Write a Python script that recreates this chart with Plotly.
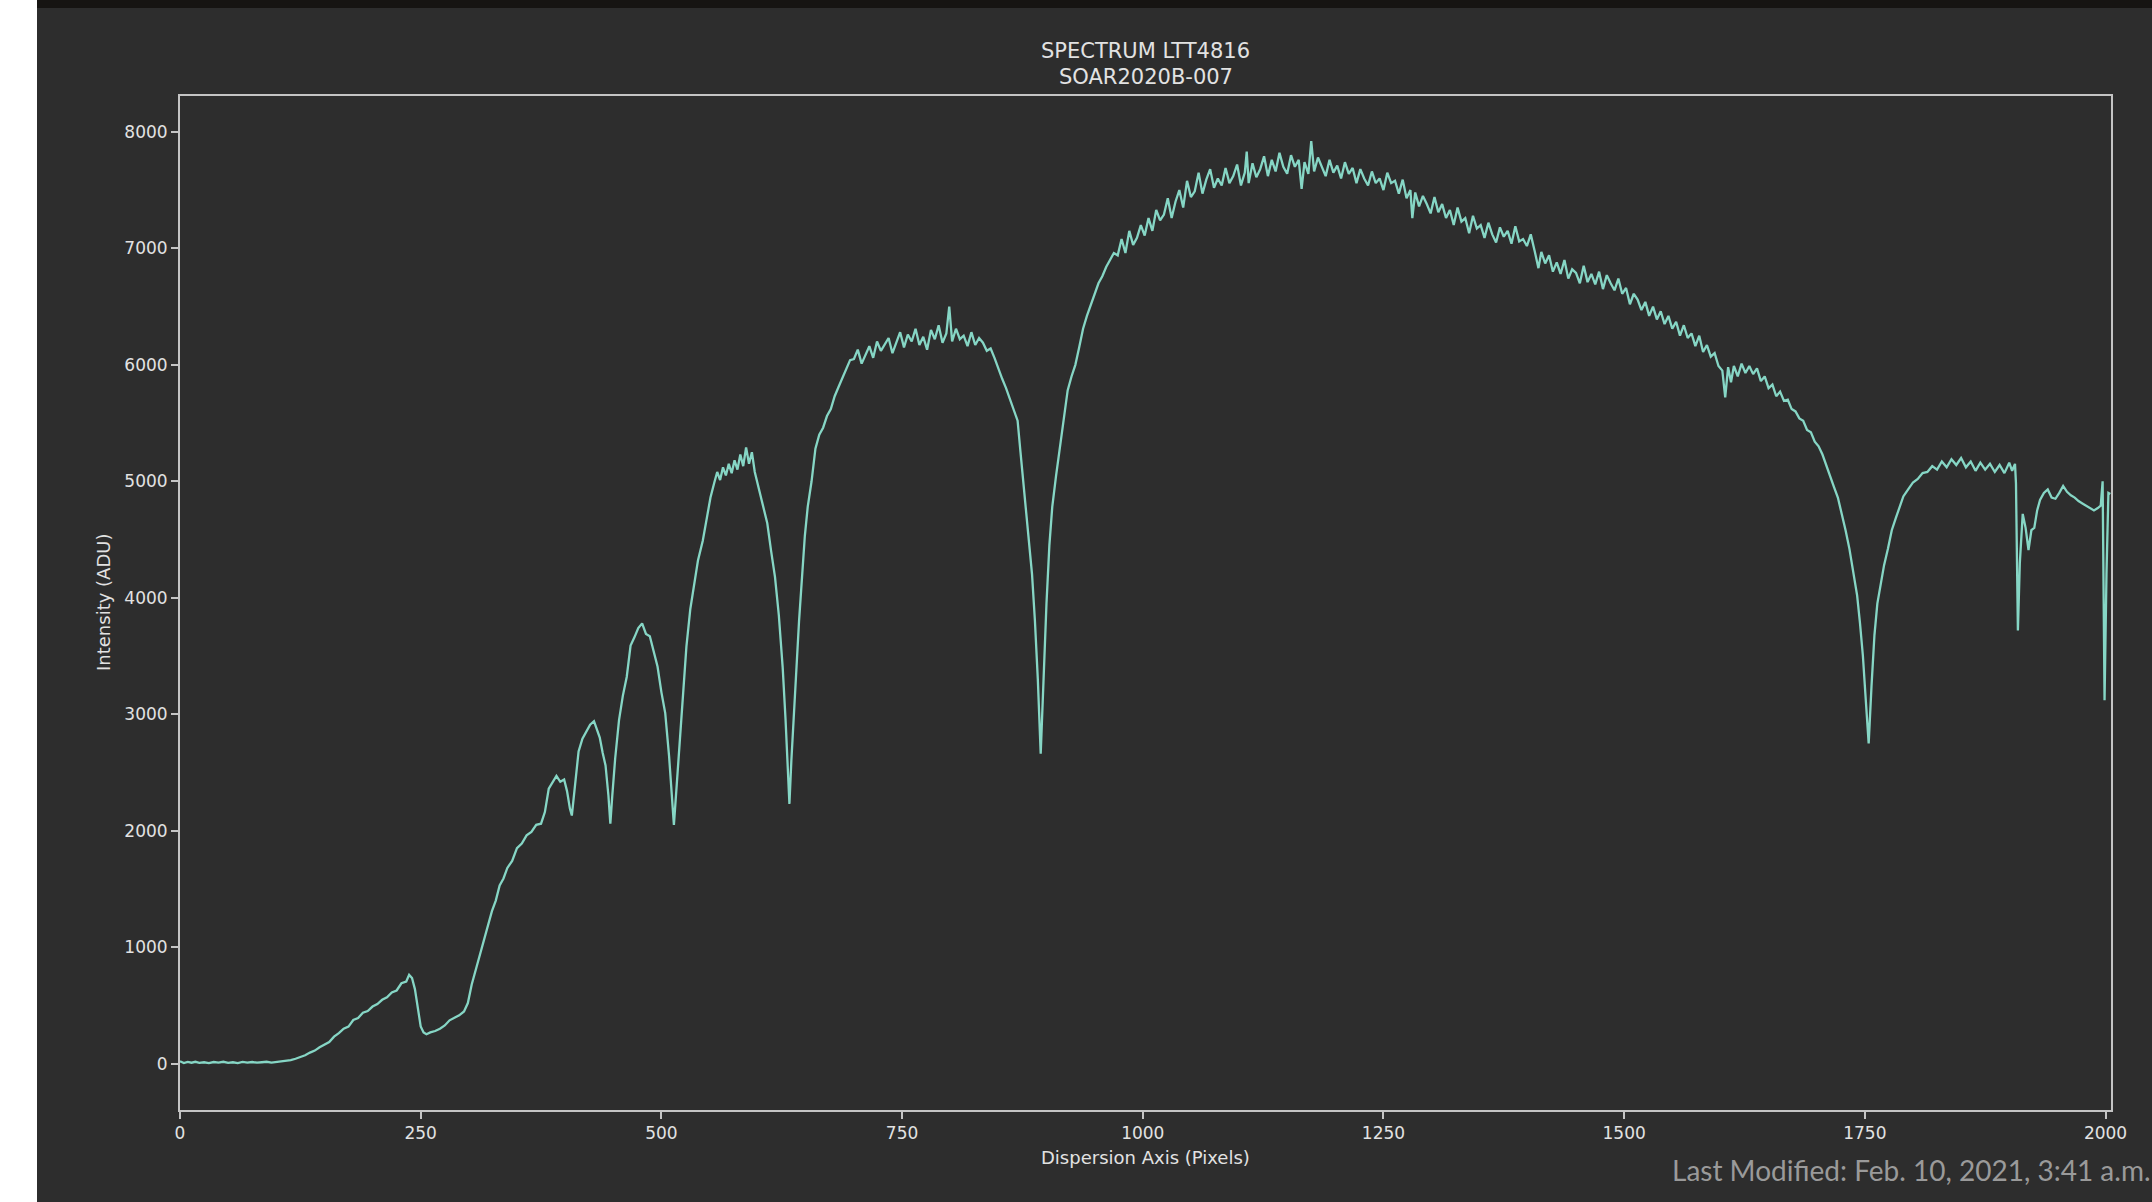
import plotly.graph_objects as go

# ---------------- data ----------------
PIXEL = [
    0, 4, 8, 12, 16, 20, 25, 30, 35, 40, 45, 50, 55, 60, 65, 70, 75, 80, 85, 90, 95, 100, 105, 110,
    115, 120, 125, 130, 135, 140, 145, 150, 155, 160, 165, 170, 175, 180, 185, 190, 195, 200, 205, 210,
    215, 220, 225, 230, 235, 238, 241, 244, 247, 250, 253, 256, 260, 265, 270, 275, 280, 285, 290, 295,
    299, 303, 307, 311, 316, 320, 324, 328, 332, 336, 340, 345, 350, 355, 360, 365, 370, 375, 379, 383,
    387, 391, 395, 399, 402, 405, 407, 410, 414, 418, 422, 426, 430, 433, 436, 439, 442, 445, 447, 449,
    452, 456, 460, 464, 468, 472, 476, 480, 484, 488, 492, 496, 500, 504, 508, 511, 513, 516, 519, 523,
    526, 530, 534, 538, 543, 547, 551, 555, 558, 561, 564, 567, 570, 573, 576, 579, 582, 585, 588, 591,
    594, 597, 600, 603, 606, 610, 614, 618, 622, 626, 629, 631, 633, 635, 637, 640, 643, 646, 649, 652,
    656, 660, 664, 668, 672, 676, 680, 684, 688, 692, 696, 700, 704, 708, 712, 716, 720, 724, 728, 732,
    736, 740, 744, 748, 752, 756, 760, 764, 768, 772, 776, 780, 784, 788, 792, 796, 799, 802, 806, 810,
    814, 818, 822, 826, 830, 834, 838, 842, 846, 850, 854, 858, 862, 866, 870, 873, 876, 879, 882, 885,
    888, 891, 894, 897, 900, 903, 906, 910, 914, 918, 922, 926, 930, 934, 938, 942, 946, 950, 954, 958,
    962, 966, 970, 974, 978, 982, 986, 990, 994, 998, 1002, 1006, 1010, 1014, 1018, 1022, 1026, 1030, 1034, 1038,
    1042, 1046, 1050, 1054, 1058, 1062, 1066, 1070, 1074, 1078, 1082, 1086, 1090, 1094, 1098, 1102, 1106, 1108, 1110, 1114,
    1118, 1122, 1126, 1130, 1134, 1138, 1142, 1146, 1150, 1154, 1158, 1162, 1165, 1168, 1172, 1175, 1178, 1182, 1186, 1190,
    1194, 1198, 1202, 1206, 1210, 1214, 1218, 1222, 1226, 1230, 1234, 1238, 1242, 1246, 1250, 1254, 1258, 1262, 1266, 1270,
    1274, 1278, 1280, 1283, 1287, 1291, 1295, 1299, 1303, 1307, 1311, 1315, 1319, 1323, 1327, 1331, 1335, 1339, 1343, 1347,
    1351, 1355, 1359, 1363, 1367, 1371, 1375, 1379, 1383, 1387, 1391, 1395, 1399, 1403, 1407, 1411, 1414, 1418, 1422, 1426,
    1430, 1434, 1438, 1442, 1446, 1450, 1454, 1458, 1462, 1466, 1470, 1474, 1478, 1482, 1486, 1490, 1494, 1498, 1502, 1506,
    1510, 1514, 1518, 1522, 1526, 1530, 1534, 1538, 1542, 1546, 1550, 1554, 1558, 1562, 1566, 1570, 1574, 1578, 1582, 1586,
    1590, 1594, 1598, 1602, 1605, 1608, 1611, 1614, 1618, 1622, 1626, 1630, 1634, 1638, 1642, 1646, 1650, 1654, 1658, 1662,
    1666, 1670, 1674, 1678, 1682, 1686, 1690, 1694, 1698, 1702, 1706, 1710, 1714, 1718, 1722, 1726, 1730, 1734, 1738, 1742,
    1745, 1748, 1751, 1754, 1757, 1760, 1763, 1766, 1770, 1774, 1778, 1782, 1786, 1790, 1795, 1800, 1805, 1810, 1815, 1820,
    1825, 1830, 1835, 1840, 1845, 1850, 1855, 1860, 1865, 1870, 1875, 1880, 1885, 1890, 1895, 1900, 1903, 1906, 1907, 1909,
    1911, 1914, 1917, 1920, 1923, 1926, 1929, 1932, 1936, 1940, 1944, 1948, 1952, 1956, 1960, 1964, 1968, 1972, 1976, 1980,
    1984, 1988, 1992, 1995, 1997, 1999, 2001, 2003, 2005,
]

INTENSITY = [
    20, 5, 15, 8, 16, 6, 12, 4, 14, 9, 16, 6, 12, 5, 15, 9, 14, 8, 12, 16, 9, 14, 18, 22,
    30, 42, 58, 72, 95, 112, 140, 162, 185, 232, 262, 300, 318, 375, 392, 438, 452, 490, 512, 548,
    570, 612, 628, 690, 705, 762, 735, 640, 470, 320, 268, 252, 268, 280, 300, 328, 372, 395, 415, 448,
    520, 680, 800, 905, 1060, 1170, 1310, 1400, 1530, 1590, 1680, 1740, 1850, 1890, 1960, 1990, 2050, 2060, 2160, 2360,
    2410, 2470, 2420, 2440, 2340, 2190, 2130, 2360, 2680, 2790, 2850, 2910, 2940, 2870, 2800, 2670, 2560, 2300, 2060, 2300,
    2620, 2950, 3160, 3320, 3590, 3660, 3740, 3780, 3690, 3670, 3550, 3410, 3190, 3010, 2640, 2250, 2050, 2400, 2780, 3250,
    3580, 3900, 4100, 4320, 4490, 4690, 4860, 4990, 5080, 5010, 5120, 5050, 5150, 5070, 5180, 5100, 5230, 5130, 5290, 5150,
    5250, 5080, 4980, 4900, 4800, 4640, 4400, 4180, 3850, 3400, 2950, 2550, 2230, 2600, 2950, 3350, 3800, 4200, 4530, 4780,
    5000, 5280, 5400, 5460, 5560, 5620, 5730, 5810, 5890, 5970, 6040, 6050, 6130, 6010, 6090, 6160, 6060, 6200, 6120, 6180,
    6230, 6100, 6190, 6280, 6150, 6260, 6200, 6310, 6170, 6240, 6130, 6300, 6220, 6340, 6190, 6270, 6500, 6200, 6310, 6220,
    6250, 6160, 6280, 6170, 6230, 6190, 6120, 6140, 6060, 5960, 5880, 5800, 5700, 5600, 5520, 5250, 5000, 4750, 4500, 4200,
    3800, 3300, 2660, 3350, 3950, 4450, 4780, 5050, 5300, 5550, 5780, 5900, 6000, 6150, 6310, 6420, 6520, 6600, 6700, 6760,
    6840, 6900, 6960, 6940, 7080, 6960, 7150, 7030, 7090, 7200, 7110, 7260, 7150, 7330, 7240, 7290, 7430, 7260, 7400, 7500,
    7350, 7580, 7440, 7490, 7650, 7470, 7590, 7680, 7520, 7600, 7540, 7690, 7560, 7620, 7720, 7540, 7650, 7830, 7560, 7730,
    7610, 7680, 7790, 7620, 7760, 7660, 7820, 7700, 7640, 7800, 7700, 7760, 7510, 7740, 7640, 7920, 7660, 7780, 7700, 7620,
    7760, 7650, 7710, 7600, 7740, 7640, 7690, 7560, 7680, 7600, 7540, 7660, 7560, 7600, 7500, 7650, 7560, 7580, 7470, 7590,
    7430, 7500, 7260, 7480, 7360, 7450, 7380, 7300, 7440, 7310, 7380, 7260, 7330, 7200, 7350, 7230, 7260, 7130, 7280, 7170,
    7200, 7090, 7220, 7120, 7050, 7180, 7100, 7150, 7040, 7190, 7060, 7080, 7020, 7120, 6980, 6830, 6970, 6870, 6940, 6800,
    6880, 6780, 6900, 6740, 6820, 6790, 6700, 6850, 6710, 6780, 6690, 6800, 6650, 6770, 6700, 6640, 6740, 6610, 6660, 6520,
    6610, 6560, 6470, 6540, 6420, 6500, 6390, 6460, 6350, 6420, 6310, 6370, 6250, 6340, 6230, 6270, 6160, 6250, 6110, 6170,
    6070, 6100, 5990, 5950, 5720, 5980, 5850, 5990, 5900, 6010, 5930, 5990, 5920, 5970, 5860, 5900, 5800, 5830, 5730, 5770,
    5690, 5700, 5620, 5600, 5540, 5520, 5440, 5420, 5340, 5300, 5230, 5130, 5040, 4950, 4860, 4730, 4580, 4420, 4220, 4020,
    3780, 3500, 3120, 2750, 3250, 3680, 3950, 4100, 4280, 4420, 4580, 4680, 4780, 4870, 4930, 4990, 5020, 5070, 5080, 5130,
    5100, 5170, 5120, 5190, 5140, 5200, 5120, 5170, 5090, 5160, 5100, 5150, 5080, 5140, 5070, 5160, 5090, 5150, 4980, 3720,
    4300, 4720, 4600, 4410, 4580, 4600, 4750, 4840, 4900, 4930, 4860, 4850, 4900, 4960, 4910, 4880, 4860, 4830, 4810, 4790,
    4770, 4750, 4770, 4790, 5000, 3120, 4200, 4900, 4890,
]

assert len(PIXEL) == len(INTENSITY)

X_TICKS = [0, 250, 500, 750, 1000, 1250, 1500, 1750, 2000]
Y_TICKS = [0, 1000, 2000, 3000, 4000, 5000, 6000, 7000, 8000]

TITLE_LINES = ["SPECTRUM LTT4816", "SOAR2020B-007"]
X_LABEL = "Dispersion Axis (Pixels)"
Y_LABEL = "Intensity (ADU)"
FOOTER = "Last Modified: Feb. 10, 2021, 3:41 a.m."

# ---------------- layout geometry (pixels) ----------------
W, H = 2152, 1202
L, R, T, B = 180, 41, 96, 92
PW, PH = W - L - R, H - T - B


def px_x(p):
    return (p - L) / PW


def px_y(p):
    return (H - B - p) / PH


BG = "#2d2d2d"
FG = "#e2e2e2"
SPINE = "#c4c4c4"
LINE = "#86d6c5"

fig = go.Figure()
fig.add_trace(go.Scatter(
    x=PIXEL, y=INTENSITY, mode="lines",
    line=dict(color=LINE, width=2.3),
    hoverinfo="skip", showlegend=False,
))

axis_common = dict(
    showgrid=False, zeroline=False,
    showline=True, linecolor=SPINE, linewidth=2, mirror=True,
    ticks="outside", ticklen=7, tickwidth=1.5, tickcolor=SPINE,
    tickfont=dict(family="DejaVu Sans", size=17, color=FG),
)

fig.update_xaxes(range=[0, 2005.7], tickvals=X_TICKS, ticktext=[str(v) for v in X_TICKS],
                 **axis_common)
fig.update_yaxes(range=[-398, 8308], tickvals=Y_TICKS, ticktext=[str(v) for v in Y_TICKS],
                 **axis_common)

shapes = [
    # white strip on the left edge
    dict(type="rect", xref="paper", yref="paper",
         x0=px_x(0), x1=px_x(37), y0=px_y(H), y1=px_y(0),
         fillcolor="#ffffff", line=dict(width=0), layer="below"),
    # dark band on top edge
    dict(type="rect", xref="paper", yref="paper",
         x0=px_x(37), x1=px_x(W), y0=px_y(8), y1=px_y(0),
         fillcolor="#161412", line=dict(width=0), layer="below"),
]

annotations = [
    dict(text=TITLE_LINES[0], xref="paper", yref="paper", x=0.5, y=px_y(51),
         xanchor="center", yanchor="middle", showarrow=False,
         font=dict(family="DejaVu Sans", size=21, color=FG)),
    dict(text=TITLE_LINES[1], xref="paper", yref="paper", x=0.5, y=px_y(77),
         xanchor="center", yanchor="middle", showarrow=False,
         font=dict(family="DejaVu Sans", size=21, color=FG)),
    dict(text=X_LABEL, xref="paper", yref="paper", x=0.5, y=px_y(1157),
         xanchor="center", yanchor="middle", showarrow=False,
         font=dict(family="DejaVu Sans", size=18, color=FG)),
    dict(text=Y_LABEL, xref="paper", yref="paper", x=px_x(103), y=0.5,
         xanchor="center", yanchor="middle", showarrow=False, textangle=-90,
         font=dict(family="DejaVu Sans", size=18, color=FG)),
    dict(text=FOOTER, xref="paper", yref="paper", x=px_x(2153), y=px_y(1170),
         xanchor="right", yanchor="middle", showarrow=False,
         font=dict(family="Lato", size=28, color="#9a9a9a")),
]

fig.update_layout(
    width=W, height=H,
    margin=dict(l=L, r=R, t=T, b=B, pad=0),
    paper_bgcolor=BG, plot_bgcolor=BG,
    shapes=shapes, annotations=annotations,
    showlegend=False,
)

fig.write_html("out.html", config={"displayModeBar": False})
